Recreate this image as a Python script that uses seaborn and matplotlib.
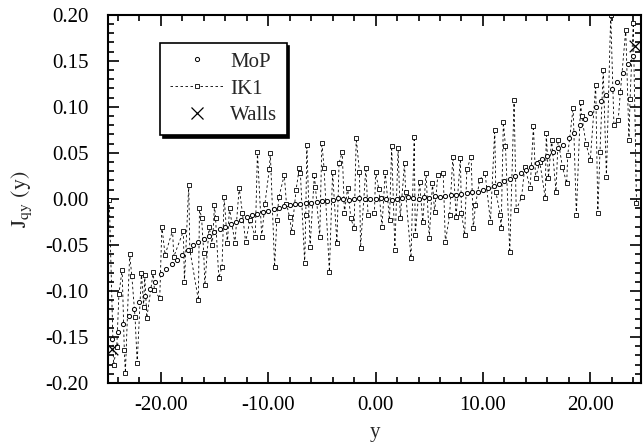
import numpy as np
import matplotlib
matplotlib.use("Agg")
import matplotlib.pyplot as plt
from matplotlib.lines import Line2D
from matplotlib.ticker import MultipleLocator, FormatStrFormatter
import seaborn as sns

# MoP profile (bin centres evenly spaced)
mop_vals = [
    -0.152, -0.145, -0.136, -0.127, -0.120, -0.112, -0.105, -0.098, -0.090, -0.082,
    -0.076, -0.071, -0.066, -0.061, -0.056, -0.050, -0.047, -0.044, -0.040, -0.036,
    -0.033, -0.030, -0.027, -0.025, -0.023, -0.020, -0.018, -0.016, -0.014, -0.013,
    -0.011, -0.010, -0.008, -0.007, -0.006, -0.005, -0.004, -0.004, -0.003, -0.002,
    -0.002, -0.001, 0.001, 0.000, -0.001, 0.000, 0.001, 0.000, 0.000, 0.000,
    0.001, 0.000, -0.001, 0.000, 0.001, 0.002, 0.001, 0.000, 0.002, 0.001,
    0.003, 0.002, 0.003, 0.004, 0.004, 0.005, 0.006, 0.007, 0.008, 0.010,
    0.012, 0.014, 0.016, 0.019, 0.022, 0.025, 0.028, 0.031, 0.035, 0.039,
    0.043, 0.047, 0.051, 0.055, 0.059, 0.066, 0.072, 0.080, 0.087, 0.093,
    0.100, 0.106, 0.113, 0.119, 0.127, 0.137, 0.146, 0.155,
]
mop_y = np.linspace(-24.5, 24.0, len(mop_vals))

# IK1 profile (noisy), positions and values
ik1_y = [
    -24.8, -24.4, -24.1, -23.9, -23.6, -23.4, -23.3, -22.9, -22.7, -22.4,
    -22.2, -21.8, -21.6, -21.5, -21.3, -20.7, -20.6, -20.1, -19.9, -19.6,
    -18.9, -18.8, -17.9, -17.8, -17.4, -17.3,
    -16.5, -16.4, -16.2, -16.0, -15.9, -15.5, -15.2, -15.0, -14.9, -14.6,
    -14.3, -14.1, -13.8, -13.6, -13.1, -12.7, -12.4, -12.1, -11.7, -11.2,
    -11.0, -10.6, -10.3, -9.9, -9.8, -9.4, -9.2, -9.0,
    -8.5, -8.3, -8.0, -7.8, -7.4, -7.1, -7.0, -6.6, -6.5, -6.4,
    -6.1, -5.7, -5.6, -5.2, -5.0, -4.8, -4.3, -4.0, -3.6, -3.4,
    -3.1, -2.9, -2.6, -2.3, -2.0, -1.8, -1.5, -1.4, -0.9, -0.7,
    -0.1, 0.0, 0.3, 0.6, 0.9, 1.3, 1.5, 1.8, 2.1, 2.3,
    2.7, 2.8, 3.3, 3.6, 3.7, 4.1, 4.4, 4.7, 5.0, 5.3,
    5.5, 5.8, 6.3, 6.5, 6.9, 7.2, 7.5, 7.9, 8.0,
    8.3, 8.5, 8.9, 9.1, 9.3, 9.7, 10.2, 10.7, 11.1, 11.2,
    11.6, 11.7, 11.9, 12.1, 12.5, 12.9, 13.1, 13.6, 13.9, 14.4,
    14.7, 14.9, 15.3, 15.8, 15.9, 16.1, 16.4,
    16.8, 17.0, 17.4, 17.8, 17.9, 18.4, 18.7, 19.1, 19.2, 19.6,
    20.0, 20.5, 20.7, 20.9, 21.2, 21.5, 21.9, 22.2, 22.6, 22.8,
    23.3, 23.6, 23.7, 24.0, 24.3,
]
ik1_vals = [
    -0.001, -0.180, -0.161, -0.103, -0.077, -0.164, -0.189, -0.060, -0.084, -0.128,
    -0.178, -0.080, -0.117, -0.083, -0.129, -0.079, -0.099, -0.108, -0.030, -0.061,
    -0.034, -0.063, -0.035, -0.090, 0.015, -0.055,
    -0.110, -0.010, -0.021, -0.059, -0.094, -0.030, -0.050, -0.007, -0.021, -0.086,
    -0.074, 0.002, -0.048, -0.010, -0.048, 0.012, -0.015, -0.047, -0.023, -0.041,
    0.051, -0.041, -0.005, 0.032, 0.050, -0.074, -0.023, 0.002,
    0.026, -0.005, -0.020, -0.036, 0.010, 0.034, 0.028, -0.070, -0.017, 0.059,
    -0.052, 0.026, 0.013, -0.041, 0.061, 0.034, -0.079, 0.029, -0.048, 0.039,
    0.051, -0.015, 0.012, -0.021, -0.032, 0.066, 0.029, -0.053, 0.034, -0.017,
    -0.015, 0.029, 0.011, -0.030, 0.029, -0.023, 0.057, -0.055, 0.055, -0.021,
    0.039, 0.007, -0.064, 0.067, -0.039, 0.018, -0.025, 0.028, -0.042, 0.017,
    -0.014, 0.026, 0.028, -0.047, -0.017, 0.046, -0.020, 0.044, -0.015,
    -0.039, 0.032, 0.046, -0.032, -0.007, 0.021, 0.028, -0.025, 0.075, 0.008,
    -0.017, -0.032, 0.083, 0.057, -0.058, 0.107, -0.012, 0.002, 0.035, 0.012,
    0.079, 0.023, 0.040, 0.001, 0.072, 0.023, 0.064,
    0.008, 0.064, 0.035, 0.017, 0.048, 0.099, -0.017, 0.105, 0.090, 0.060,
    0.042, 0.124, -0.015, 0.051, 0.140, 0.024, 0.200, 0.080, 0.086, 0.116,
    0.184, 0.064, 0.108, 0.191, -0.004,
]

# wall values
walls_y = [-24.5, 24.2]
walls_vals = [-0.163, 0.166]

sns.set_style("ticks")
plt.rcParams["font.family"] = ["Liberation Serif", "DejaVu Serif"]
plt.rcParams["mathtext.fontset"] = "stix"
plt.rcParams["axes.unicode_minus"] = False

fig = plt.figure(figsize=(6.44, 4.48), dpi=100)
ax = fig.add_axes([0.168, 0.145, 0.827, 0.822])

sns.lineplot(x=ik1_y, y=ik1_vals, ax=ax, estimator=None, sort=False,
             color="black", linestyle=(0, (3, 3)), linewidth=0.6,
             marker="s", markersize=3.0, markerfacecolor="white",
             markeredgecolor="black", markeredgewidth=0.6)
sns.scatterplot(x=mop_y, y=mop_vals, ax=ax, marker="o", s=9,
                facecolor="white", edgecolor="black", linewidth=0.7, zorder=3)
sns.scatterplot(x=walls_y, y=walls_vals, ax=ax, marker="x", s=70,
                color="black", linewidth=0.9, zorder=4)

ax.set_xlim(-24.9, 24.7)
ax.set_ylim(-0.20, 0.20)
ax.xaxis.set_major_locator(MultipleLocator(10))
ax.xaxis.set_minor_locator(MultipleLocator(2))
ax.yaxis.set_major_locator(MultipleLocator(0.05))
ax.yaxis.set_minor_locator(MultipleLocator(0.01))
ax.xaxis.set_major_formatter(FormatStrFormatter("%.2f"))
ax.yaxis.set_major_formatter(FormatStrFormatter("%.2f"))
ax.tick_params(which="both", direction="in", top=True, right=True,
               labelsize=15, colors="black", width=1.2)
ax.tick_params(which="major", length=8)
ax.tick_params(axis="x", which="major", pad=9)
ax.tick_params(axis="y", which="major", pad=14)
ax.tick_params(which="minor", length=4)
for s in ax.spines.values():
    s.set_linewidth(1.5)
    s.set_color("black")

ax.set_xlabel("y", fontsize=15, labelpad=6)
ax.set_ylabel(r"$\mathrm{J_{qy}\ (y)}$", fontsize=16, labelpad=8)

handles = [
    Line2D([], [], linestyle="none", marker="o", markersize=3.0,
           markerfacecolor="white", markeredgecolor="black", markeredgewidth=0.7),
    Line2D([], [], linestyle=(0, (3, 3)), linewidth=0.6, color="black",
           marker="s", markersize=3.0, markerfacecolor="white",
           markeredgecolor="black", markeredgewidth=0.6),
    Line2D([], [], linestyle="none", marker="x", markersize=8,
           color="black", markeredgewidth=0.9),
]
leg = ax.legend(handles, ["MoP", "IK1", "Walls"], loc="upper left",
                bbox_to_anchor=(0.098, 0.924), fontsize=15, frameon=True,
                fancybox=False, shadow={"color": "black", "alpha": 1},
                handlelength=2.6, handletextpad=0.3, labelspacing=0.35,
                borderpad=0.45, borderaxespad=0)
leg.get_frame().set_edgecolor("black")
leg.get_frame().set_linewidth(1.2)
leg.get_frame().set_alpha(1)

fig.savefig("out.png", dpi=100)
